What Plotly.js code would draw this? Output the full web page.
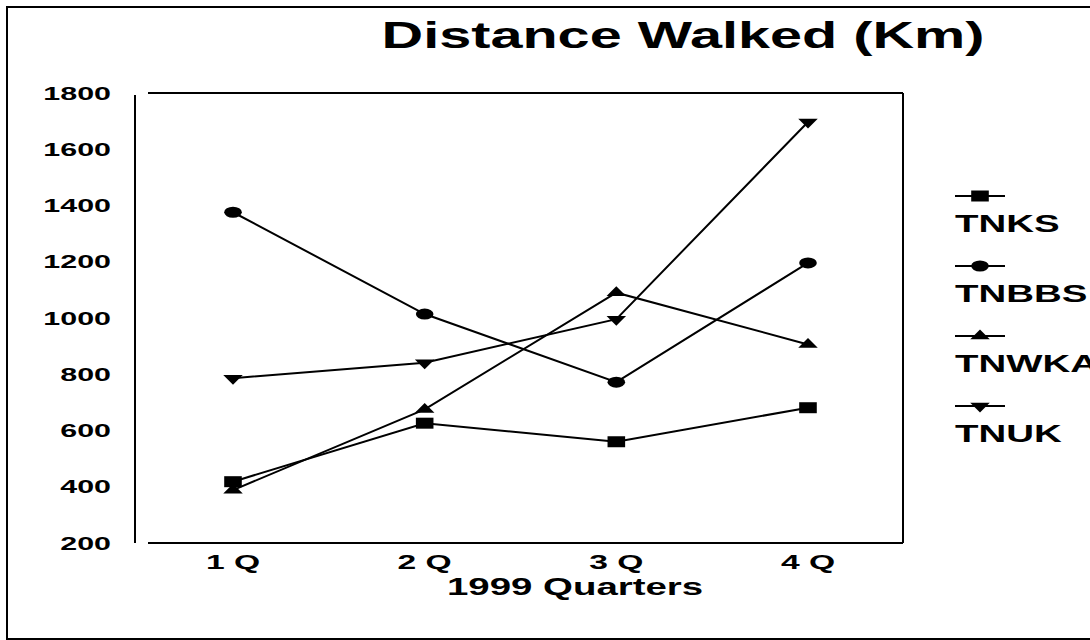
<!DOCTYPE html>
<html>
<head>
<meta charset="utf-8">
<script src="https://cdn.plot.ly/plotly-3.0.1.min.js"></script>
<style>
html, body { margin: 0; padding: 0; background: #ffffff; }
#chart { width: 1090px; height: 640px; }
</style>
</head>
<body>
<div id="chart"></div>
<script>
// ---- data ----
const quarters = ['1 Q', '2 Q', '3 Q', '4 Q'];
const seriesNames = ['TNKS', 'TNBBS', 'TNWKA', 'TNUK'];
const TNKS  = [418, 626, 560, 681];
const TNBBS = [1376, 1014, 772, 1196];
const TNWKA = [388, 675, 1090, 906];
const TNUK  = [786, 841, 996, 1697];
const yTickVals = [200, 400, 600, 800, 1000, 1200, 1400, 1600, 1800];
const chartTitle = 'Distance Walked (Km)';
const xAxisTitle = '1999 Quarters';

// ---- styles ----
const FONT = 'Liberation Sans, Arial, Helvetica, sans-serif';
const TEXT_STRETCH = 1.6;
const symbols = ['square', 'circle', 'triangle-up', 'triangle-down'];
const markerSizes = [11, 11, 13, 13];
const markerStretch = [1.6, 1.6, 1.3, 1.3];

// plot box in pixels
const PL = 148, PR = 903, PT = 93, PB = 543;
const px2x = p => (p - PL) / (PR - PL);
const py2y = p => (PB - p) / (PB - PT);

const seriesValues = [TNKS, TNBBS, TNWKA, TNUK];
const traces = seriesNames.map((name, i) => ({
  type: 'scatter',
  mode: 'lines+markers',
  name: name,
  x: quarters,
  y: seriesValues[i],
  line: { color: '#000000', width: 2 },
  marker: { symbol: symbols[i], size: markerSizes[i], color: '#000000' },
  legendgroup: name
}));

const blk = { color: '#000000', width: 2 };
const layout = {
  width: 1090,
  height: 640,
  paper_bgcolor: '#ffffff',
  plot_bgcolor: '#ffffff',
  margin: { l: PL, r: 1090 - PR, t: PT, b: 640 - PB, pad: 0, autoexpand: false },
  font: { family: FONT, color: '#000000', weight: 'bold' },
  title: {
    text: chartTitle,
    x: 683 / 1090, xref: 'container', xanchor: 'center',
    y: 1 - 35 / 640, yref: 'container', yanchor: 'middle',
    font: { family: FONT, size: 36, color: '#000000', weight: 'bold' },
    automargin: false
  },
  xaxis: {
    type: 'category',
    range: [-0.4435, 3.4957],
    showgrid: false, zeroline: false, showline: false,
    ticks: '',
    ticklabelstandoff: 4,
    tickfont: { family: FONT, size: 21, color: '#000000', weight: 'bold' },
    automargin: false,
    fixedrange: true
  },
  yaxis: {
    range: [200, 1800],
    tickvals: yTickVals,
    ticktext: yTickVals.map(String),
    showgrid: false, zeroline: false, showline: false,
    ticks: '',
    ticklabelstandoff: 36,
    tickfont: { family: FONT, size: 19, color: '#000000', weight: 'bold' },
    automargin: false,
    fixedrange: true
  },
  showlegend: true,
  legend: {
    x: px2x(955), y: py2y(185), xanchor: 'left', yanchor: 'top',
    xref: 'paper', yref: 'paper',
    bgcolor: 'rgba(0,0,0,0)', borderwidth: 0,
    font: { family: FONT, size: 24, color: '#000000', weight: 'bold' },
    traceorder: 'normal'
  },
  annotations: [{
    text: xAxisTitle,
    xref: 'paper', yref: 'paper',
    x: px2x(574.5), y: py2y(586),
    xanchor: 'center', yanchor: 'middle',
    showarrow: false,
    font: { family: FONT, size: 24, color: '#000000', weight: 'bold' }
  }],
  shapes: [
    // outer frame
    { type: 'rect', xref: 'paper', yref: 'paper', x0: px2x(7), x1: px2x(1100), y0: py2y(639), y1: py2y(7), line: blk },
    // plot box: bottom, top, right
    { type: 'line', xref: 'paper', yref: 'paper', x0: 0, x1: 1, y0: 0, y1: 0, line: blk },
    { type: 'line', xref: 'paper', yref: 'paper', x0: 0, x1: 1, y0: 1, y1: 1, line: blk },
    { type: 'line', xref: 'paper', yref: 'paper', x0: 1, x1: 1, y0: 0, y1: 1, line: blk },
    // offset value axis line
    { type: 'line', xref: 'paper', yref: 'paper', x0: px2x(135), x1: px2x(135), y0: 0, y1: py2y(95), line: blk }
  ]
};

const gd = document.getElementById('chart');
Plotly.newPlot(gd, traces, layout, { displayModeBar: false, staticPlot: true }).then(() => {
  // horizontally widen data markers
  gd.querySelectorAll('.scatterlayer .trace').forEach((tr, i) => {
    tr.querySelectorAll('.point').forEach(p => {
      const t = p.getAttribute('transform') || '';
      p.setAttribute('transform', t + ' scale(' + markerStretch[i] + ',1)');
    });
  });
  // legend: sample above label
  gd.querySelectorAll('.legend .scrollbox').forEach(s => s.removeAttribute('clip-path'));
  gd.querySelectorAll('.legend .traces').forEach((g, i) => {
    const pm = g.parentNode.getCTM();
    g.setAttribute('transform', 'translate(' + (955 - pm.e) + ',' + (196 + 70 * i - pm.f) + ')');
    g.querySelectorAll('.legendlines path').forEach(p => p.setAttribute('d', 'M0,0h50'));
    g.querySelectorAll('.legendpoints path').forEach(p =>
      p.setAttribute('transform', 'translate(25,0) scale(' + markerStretch[i] + ',1)'));
    const t = g.querySelector('.legendtext');
    if (t) { t.setAttribute('x', 0); t.setAttribute('y', 36); }
  });
  // horizontally widened lettering
  gd.querySelectorAll('svg text').forEach(t => {
    const L = t.getComputedTextLength();
    if (L > 0) {
      t.setAttribute('textLength', (L * TEXT_STRETCH).toFixed(1));
      t.setAttribute('lengthAdjust', 'spacingAndGlyphs');
    }
  });
});
</script>
</body>
</html>
